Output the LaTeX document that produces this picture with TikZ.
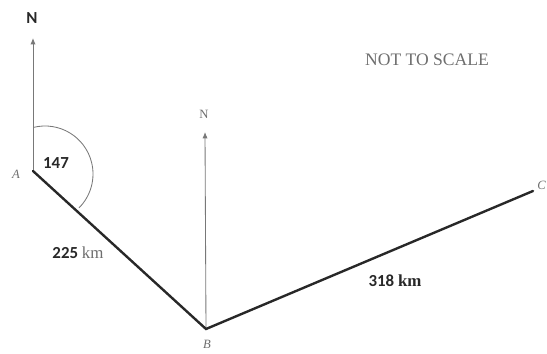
\documentclass[tikz,border=0pt]{standalone}
\usepackage{fontspec}
\setmainfont{Liberation Serif}
\newfontfamily\calfont{Carlito}
\usetikzlibrary{arrows.meta, calc}
\definecolor{legInk}{RGB}{40,40,40}
\definecolor{thinInk}{RGB}{120,120,120}
\definecolor{labelInk}{RGB}{110,110,110}
\tikzset{
    leg/.style={line width=1.7pt, draw=legInk, line cap=round},
    northline/.style={-{Latex[length=1.6mm, width=1.3mm]}, line width=0.6pt, draw=thinInk},
    angarc/.style={line width=0.6pt, draw=thinInk},
    pt/.style={font=\itshape\small, text=labelInk, inner sep=1pt},
    dist/.style={font=\calfont\bfseries\large, text=legInk, inner sep=1pt}
}
\begin{document}
\begin{tikzpicture}[x=0.025cm, y=0.025cm]
    \useasboundingbox (0,0) rectangle (547,354);
    % points
    \coordinate (A) at (33,183);
    \coordinate (B) at (206,25);
    \coordinate (C) at (533,163);
    \coordinate (nA) at (33,316);
    \coordinate (nB) at (205,222);

    % north lines
    \draw[northline] (A) -- (nA);
    \draw[northline] (B) -- (nB);
    \node[font=\calfont\bfseries\large, text=legInk] (NA) at (32,336) {N};
    \node[font=\small, text=labelInk] (NB) at (204,240) {N};

    % bearing arc at A
    \draw[angarc] ($(45,180)+(104:48)$) arc[start angle=104, end angle=-45, radius=48];

    % legs
    \draw[leg] (A) -- (B) -- (C);

    % labels
    \node[pt] (lA) at (16,180) {A};
    \node[pt] (lB) at (207,10) {B};
    \node[pt, anchor=west, inner sep=0pt] (lC) at (537,169) {C};
    \node[dist] (ang) at (56,191) {147};
    \node[dist] (dAB) at (78,101) {225 {\normalfont\mdseries\color{labelInk}km}};
    \node[dist] (dBC) at (395,73) {318 {\normalfont\bfseries km}};
    \node[font=\fontsize{12.5}{14}\selectfont, text=labelInk] (note) at (427,294) {NOT TO SCALE};
\end{tikzpicture}
\end{document}
